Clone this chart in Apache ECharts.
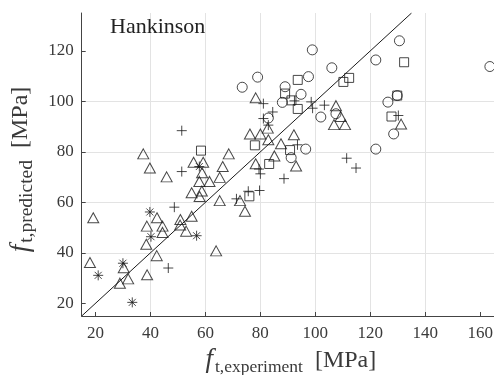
<!DOCTYPE html>
<html>
<head>
<meta charset="utf-8">
<script src="https://cdn.jsdelivr.net/npm/echarts@6/dist/echarts.min.js"></script>
<style>
html,body{margin:0;padding:0;background:#fff;overflow:hidden;width:494px;height:375px;}
#chart{position:fixed;left:0;top:0;width:494px;height:375px;}
</style>
</head>
<body>
<div id="chart"></div>
<script>
// ---- data ----
const panelTitle = 'Hankinson';
const xTicks = [20, 40, 60, 80, 100, 120, 140, 160];
const yTicks = [20, 40, 60, 80, 100, 120];
const xRange = [15, 165];
const yRange = [15, 135];
const identityLine = [15, 135];

const circleX = [163.5,130.6,122,98.9,106,97.5,89,94.8,88,102,107.5,126.4,129.8,128.5,122,96.5,91.2,73.4,79,82.9];
const circleY = [113.8,124,116.4,120.4,113.3,109.8,105.8,102.8,99.6,93.8,95.1,99.7,102.3,87.1,81.1,81.1,77.7,105.6,109.6,93.4];

const squareX = [132.3,93.6,110.2,112.3,89,91.3,93.6,129.8,127.7,90.8,58.4,78,83.2,76];
const squareY = [115.5,108.5,107.7,109.3,103.1,100.4,97,102.3,94,80.7,80.5,82.6,75.2,62.4];

const plusX = [98.5,99,103.3,92.4,130.2,93.5,111.4,114.8,88.6,51.4,81.1,84.5,81.1,82.9,51.4,48.7,46.5,79.5,80,71.3,75.6,79.7];
const plusY = [99.8,97.3,98.5,100.2,94.4,82.8,77.5,73.6,69.4,88.4,99.1,95.8,93.2,90.6,72.2,58.1,34,73.2,71.3,61.4,64.4,64.7];

const astX = [39.8,57.8,40.2,56.8,30,21,33.4];
const astY = [56.2,74.2,46.4,46.8,35.9,31.1,20.4];

const triX = [78.3,107.5,109.2,106.8,110.8,131.2,92.2,87.5,82.7,76.2,80,82.9,68.5,85.1,78.3,93,72.6,74.4,37.4,39.8,45.9,55.7,59.2,58.8,57.8,61.5,65.2,66.3,55,58.7,57.9,65.2,19.2,42.4,38.7,44.4,50.9,55,50.8,53,44.4,38.5,42.3,63.9,18,30.3,31.9,28.9,38.8];
const triY = [101.4,98.3,94,90.8,90.8,91,86.8,83.2,89.4,87.1,87.1,84.8,79.2,78.4,75.3,74.4,60.7,56.5,79.2,73.6,70.1,75.9,75.9,71.7,68.3,68.3,69.9,74.2,63.8,64.5,62.3,60.7,53.9,53.9,50.6,50.6,53.2,54.5,51,48.6,48.1,43.4,38.9,40.8,36.2,34.1,29.7,28,31.3];

// ---- chart ----
const zip = (xs, ys) => xs.map((x, i) => [x, ys[i]]);
const FONT = 'Liberation Serif';
const ink = '#1a1a1a';
const txt = '#3a3a3a';

const markerStyle = { color: 'rgba(0,0,0,0)', borderColor: ink, borderWidth: 1 };
const mk = (name, xs, ys, symbol, size) => ({
  name, type: 'scatter', data: zip(xs, ys), symbol, symbolSize: size,
  itemStyle: markerStyle, silent: true, z: 3
});

const richFor = (subSize, endPad) => ({
  f: { fontFamily: FONT, fontStyle: 'italic', fontSize: 27, color: txt },
  s: { fontFamily: FONT, fontSize: subSize, color: txt, verticalAlign: 'bottom', padding: [0, 0, -3, 2] },
  u: { fontFamily: FONT, fontSize: 24, color: txt, padding: [0, endPad, 0, 12] }
});

const el = document.getElementById('chart');
const chart = echarts.init(el, null, { renderer: 'canvas', width: 494, height: 375 });
chart.setOption({
  animation: false,
  backgroundColor: '#fff',
  title: {
    text: panelTitle, left: 110, top: 16, padding: 0,
    textStyle: { fontFamily: FONT, fontSize: 22, fontWeight: 'normal', color: '#222' }
  },
  grid: { left: 81.7, top: 13, width: 412.3, height: 303, containLabel: false, outerBoundsMode: 'none' },
  xAxis: {
    type: 'value', min: xRange[0], max: xRange[1], splitNumber: 7,
    name: '{f|f}{s|t,experiment}{u|[MPa]}', nameLocation: 'middle', nameGap: 28,
    nameTextStyle: { rich: richFor(17.5, 0), padding: [0, 0, 0, 6] },
    axisLine: { show: true, onZero: false, lineStyle: { color: '#444', width: 1 } },
    axisTick: { show: true, inside: true, length: 4, customValues: xTicks, lineStyle: { color: '#444' } },
    axisLabel: { customValues: xTicks, fontFamily: FONT, fontSize: 17, color: txt, margin: 9 },
    splitLine: { show: true, showMinLine: false, showMaxLine: false, lineStyle: { color: '#e3e3e3', width: 1 } }
  },
  yAxis: {
    type: 'value', min: yRange[0], max: yRange[1], splitNumber: 6,
    name: '{f|f}{s|t,predicted}{u|[MPa]}', nameLocation: 'middle', nameGap: 33, nameRotate: 90,
    nameTextStyle: { rich: richFor(19.5, 10) },
    axisLine: { show: true, onZero: false, lineStyle: { color: '#444', width: 1 } },
    axisTick: { show: true, inside: true, length: 4, customValues: yTicks, lineStyle: { color: '#444' } },
    axisLabel: { customValues: yTicks, fontFamily: FONT, fontSize: 17, color: txt, margin: 8 },
    splitLine: { show: true, showMinLine: false, showMaxLine: false, lineStyle: { color: '#e3e3e3', width: 1 } }
  },
  series: [
    {
      type: 'line', data: [[identityLine[0], identityLine[0]], [identityLine[1], identityLine[1]]],
      symbol: 'none', lineStyle: { color: ink, width: 1 }, silent: true, z: 2
    },
    mk('triangles', triX, triY, 'triangle', [11, 10]),
    mk('circles', circleX, circleY, 'circle', 10),
    mk('squares', squareX, squareY, 'rect', 9),
    mk('plus', plusX, plusY, 'path://M5,0L5,10M0,5L10,5', 10),
    mk('asterisks', astX, astY, 'path://M5,0L5,10M0,5L10,5M1.5,1.5L8.5,8.5M1.5,8.5L8.5,1.5', 10)
  ]
});
</script>
</body>
</html>
